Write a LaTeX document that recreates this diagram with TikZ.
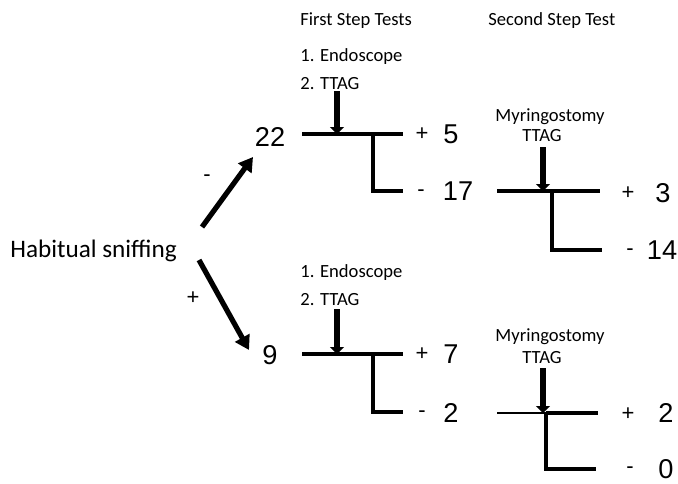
\documentclass[tikz,border=0pt]{standalone}
\usepackage{fontspec}
\setmainfont{Carlito}
\newfontfamily\numfont{Liberation Sans}
\usepackage{tikz}
\usetikzlibrary{arrows.meta}

\begin{document}
\begin{tikzpicture}[x=0.5pt, y=-0.5pt,
        lbl/.style={font=\fontsize{9.3}{11}\selectfont, inner sep=0pt},
        num/.style={font=\numfont\fontsize{13.6}{16}\selectfont, inner sep=0pt},
        sgn/.style={font=\numfont\fontsize{11}{13}\selectfont, inner sep=0pt},
        bar/.style={line width=2pt},
        thinbar/.style={line width=1.1pt},
        testarrow/.style={line width=3pt, -{Triangle[width=7pt, length=3.5pt]}},
        branch/.style={line width=2.6pt, -{Triangle[width=8pt, length=7pt]}}]
        \useasboundingbox (0,0) rectangle (678,483);

        \node[anchor=base west, inner sep=0pt, font=\fontsize{12.6}{15}\selectfont] (habit) at (10,257) {Habitual sniffing};
        \node[lbl, anchor=base west] (first) at (300,25) {First Step Tests};
        \node[lbl, anchor=base west] (second) at (488,25) {Second Step Test};

        \coordinate (up0) at (202,227);
        \coordinate (up1) at (253,157);
        \coordinate (dn0) at (199,260);
        \coordinate (dn1) at (249,350);
        \draw[branch] (up0) -- (up1);
        \draw[branch] (dn0) -- (dn1);
        \node[sgn] (neg) at (207,178) {-};
        \node[sgn] (pos) at (193,298) {+};

        \node[num] (n22) at (270,137) {22};
        \node[num] (n9) at (270,355) {9};

        % first step, upper
        \node[lbl, anchor=base west] (endoA) at (300,61) {1. Endoscope};
        \node[lbl, anchor=base west] (ttagA) at (300,89) {2. TTAG};
        \coordinate (a1) at (337,91);
        \coordinate (a1m) at (337,134);
        \coordinate (a1l) at (302,134);
        \coordinate (a1r) at (403,134);
        \coordinate (a1v) at (373,134);
        \coordinate (a1b) at (373,191);
        \coordinate (a1e) at (403,191);
        \draw[bar] (a1l) -- (a1r);
        \draw[bar] (a1v) -- (a1b) -- (a1e);
        \draw[testarrow] (a1) -- (a1m);
        \node[sgn] (posA) at (422,134) {+};
        \node[num] (n5) at (451,134) {5};
        \node[sgn] (negA) at (421,193) {-};
        \node[num] (n17) at (458,191) {17};

        % first step, lower
        \node[lbl, anchor=base west] (endoB) at (300,277) {1. Endoscope};
        \node[lbl, anchor=base west] (ttagB) at (300,305) {2. TTAG};
        \coordinate (b1) at (337,309);
        \coordinate (b1m) at (337,354);
        \coordinate (b1l) at (302,354);
        \coordinate (b1r) at (403,354);
        \coordinate (b1v) at (373,354);
        \coordinate (b1b) at (373,412);
        \coordinate (b1e) at (403,412);
        \draw[bar] (b1l) -- (b1r);
        \draw[bar] (b1v) -- (b1b) -- (b1e);
        \draw[testarrow] (b1) -- (b1m);
        \node[sgn] (posB) at (422,354) {+};
        \node[num] (n7) at (451,354) {7};
        \node[sgn] (negB) at (422,414) {-};
        \node[num] (n2) at (451,413) {2};

        % second step, upper
        \node[lbl, anchor=base] (myrA) at (550,121) {Myringostomy};
        \node[lbl, anchor=base] (ttagC) at (542,141) {TTAG};
        \coordinate (c1) at (543,147);
        \coordinate (c1m) at (543,191);
        \coordinate (c1l) at (497,191);
        \coordinate (c1r) at (600,191);
        \coordinate (c1v) at (552,191);
        \coordinate (c1b) at (552,250);
        \coordinate (c1e) at (602,250);
        \draw[bar] (c1l) -- (c1r);
        \draw[bar] (c1v) -- (c1b) -- (c1e);
        \draw[testarrow] (c1) -- (c1m);
        \node[sgn] (posC) at (628,193) {+};
        \node[num] (n3) at (663,193) {3};
        \node[sgn] (negC) at (630,252) {-};
        \node[num] (n14) at (662,250) {14};

        % second step, lower
        \node[lbl, anchor=base] (myrB) at (550,341) {Myringostomy};
        \node[lbl, anchor=base] (ttagD) at (542,363) {TTAG};
        \coordinate (d1) at (543,368);
        \coordinate (d1m) at (543,413);
        \coordinate (d1l) at (497,413);
        \coordinate (d1r) at (598,413);
        \coordinate (d1v) at (546,413);
        \coordinate (d1b) at (546,469);
        \coordinate (d1e) at (596,469);
        \draw[thinbar] (d1l) -- (d1v);
        \draw[bar] (d1v) -- (d1r);
        \draw[bar] (d1v) -- (d1b) -- (d1e);
        \draw[testarrow] (d1) -- (d1m);
        \node[sgn] (posD) at (628,414) {+};
        \node[num] (n2b) at (666,413) {2};
        \node[sgn] (negD) at (630,470) {-};
        \node[num] (n0) at (666,469) {0};
    \end{tikzpicture}
\end{document}
